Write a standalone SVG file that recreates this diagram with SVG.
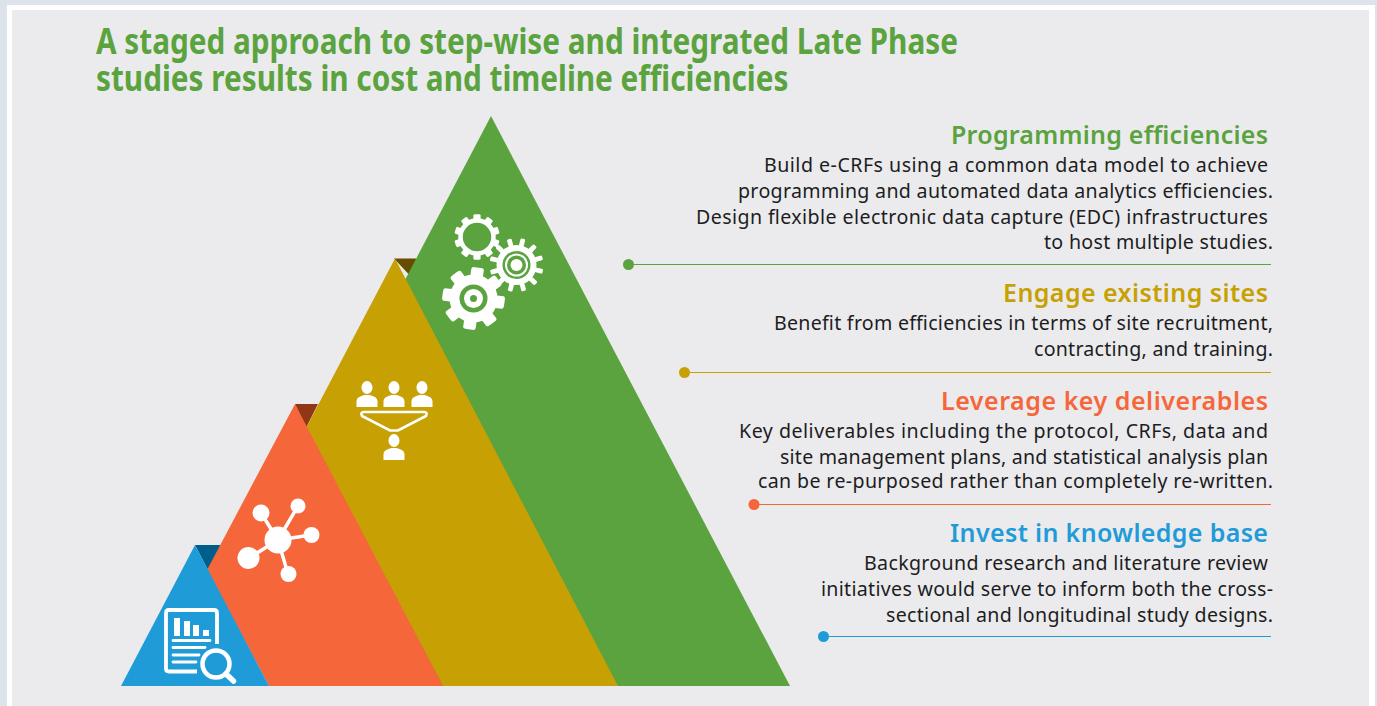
<svg xmlns="http://www.w3.org/2000/svg" width="1377" height="706" viewBox="0 0 1377 706">
<defs>
<style>
.ttl{font-family:"Noto Sans","Open Sans","DejaVu Sans Condensed",sans-serif;font-weight:700;font-size:36.500px;fill:#5aa33f}
.h{font-family:"Noto Sans","Open Sans",sans-serif;font-weight:600;font-size:25px;text-anchor:end}
.b{font-family:"Noto Sans","Open Sans",sans-serif;font-size:19.600px;fill:#1d1d1f;text-anchor:end}
.w{fill:#fff}
.ws{fill:none;stroke:#fff}
</style>
<g id="tooth"><rect x="-3" y="-4" width="6" height="8" rx="1.5" fill="#fff"/></g>
<g id="person"><ellipse cx="0" cy="-6.5" rx="5.5" ry="6.5" fill="#fff"/><path d="M-10.500 13V7.500C-10.500 3.500-7 2.500-2.500 1H2.500C7 2.500 10.500 3.500 10.500 7.500V13Z" fill="#fff"/></g>
</defs>
<rect width="1377" height="706" fill="#dde3ea"/>
<rect x="7" y="5" width="1368" height="701" fill="#fff"/>
<rect x="12" y="10" width="1357" height="696" fill="#ebebed"/>
<g id="title">
<text class="ttl" transform="translate(96 54) scale(.815 1)">A staged approach to step-wise and integrated Late Phase</text>
<text class="ttl" transform="translate(96 91) scale(.815 1)">studies results in cost and timeline efficiencies</text>
</g>
<g id="connectors">
<g stroke-width="1.2">
<path d="M628 264.500H1271" stroke="#5aa33f"/>
<path d="M684 372.500H1271" stroke="#c7a004"/>
<path d="M754 504.500H1271" stroke="#f5673b"/>
<path d="M823 636.500H1271" stroke="#1f9bd7"/>
</g>
<circle cx="628.500" cy="264.500" r="5.500" fill="#5aa33f"/>
<circle cx="684.500" cy="372.500" r="5.500" fill="#c7a004"/>
<circle cx="754" cy="504.500" r="5.500" fill="#f5673b"/>
<circle cx="823.500" cy="636.500" r="5.500" fill="#1f9bd7"/>
</g>
<g id="pyramid-green">
<path d="M394 258.500H416V282Z" fill="#664d00"/>
<path d="M491 116L790 686H490Z" fill="#5aa33f"/>
<path d="M491 116L300 480V686H500Z" fill="#5aa33f"/>
<g id="gears">
<g transform="translate(477 237)"><circle r="16.500" class="ws" stroke-width="4.500"/>
<g><use href="#tooth" transform="translate(0 -19.500) scale(1.200 .8)"/><use href="#tooth" transform="rotate(36) translate(0 -19.500) scale(1.200 .8)"/><use href="#tooth" transform="rotate(72) translate(0 -19.500) scale(1.200 .8)"/><use href="#tooth" transform="rotate(108) translate(0 -19.500) scale(1.200 .8)"/><use href="#tooth" transform="rotate(144) translate(0 -19.500) scale(1.200 .8)"/><use href="#tooth" transform="rotate(180) translate(0 -19.500) scale(1.200 .8)"/><use href="#tooth" transform="rotate(216) translate(0 -19.500) scale(1.200 .8)"/><use href="#tooth" transform="rotate(252) translate(0 -19.500) scale(1.200 .8)"/><use href="#tooth" transform="rotate(288) translate(0 -19.500) scale(1.200 .8)"/><use href="#tooth" transform="rotate(324) translate(0 -19.500) scale(1.200 .8)"/></g></g>
<g transform="translate(516.500 265)"><circle r="20" class="w"/><circle r="14" fill="#5aa33f"/><circle r="11.500" class="w"/><circle r="9.500" fill="#5aa33f"/><circle r="6" class="w"/>
<g><use href="#tooth" transform="rotate(14) translate(0 -23) scale(.8 1)"/><use href="#tooth" transform="rotate(44) translate(0 -23) scale(.8 1)"/><use href="#tooth" transform="rotate(74) translate(0 -23) scale(.8 1)"/><use href="#tooth" transform="rotate(104) translate(0 -23) scale(.8 1)"/><use href="#tooth" transform="rotate(134) translate(0 -23) scale(.8 1)"/><use href="#tooth" transform="rotate(164) translate(0 -23) scale(.8 1)"/><use href="#tooth" transform="rotate(194) translate(0 -23) scale(.8 1)"/><use href="#tooth" transform="rotate(224) translate(0 -23) scale(.8 1)"/><use href="#tooth" transform="rotate(254) translate(0 -23) scale(.8 1)"/><use href="#tooth" transform="rotate(284) translate(0 -23) scale(.8 1)"/><use href="#tooth" transform="rotate(314) translate(0 -23) scale(.8 1)"/><use href="#tooth" transform="rotate(344) translate(0 -23) scale(.8 1)"/></g></g>
<g transform="translate(473.500 298.500)"><circle r="24" class="w"/>
<g><use href="#tooth" transform="rotate(8) translate(0 -26) scale(2.100 1.300)"/><use href="#tooth" transform="rotate(53) translate(0 -26) scale(2.100 1.300)"/><use href="#tooth" transform="rotate(98) translate(0 -26) scale(2.100 1.300)"/><use href="#tooth" transform="rotate(143) translate(0 -26) scale(2.100 1.300)"/><use href="#tooth" transform="rotate(188) translate(0 -26) scale(2.100 1.300)"/><use href="#tooth" transform="rotate(233) translate(0 -26) scale(2.100 1.300)"/><use href="#tooth" transform="rotate(278) translate(0 -26) scale(2.100 1.300)"/><use href="#tooth" transform="rotate(323) translate(0 -26) scale(2.100 1.300)"/></g>
<circle r="14" fill="#5aa33f"/><circle r="9.500" class="w"/><circle r="3.500" fill="#5aa33f"/></g>
</g>
</g>
<g id="pyramid-gold">
<path d="M295 404H318L306 428Z" fill="#8f3717"/>
<path d="M395 258.500L618 686H443L306 428Z" fill="#c7a004"/>
<g id="funnel">
<use href="#person" transform="translate(367 394)"/><use href="#person" transform="translate(394 394)"/><use href="#person" transform="translate(422 394)"/>
<path d="M364 412H424Q428 412 426 416L398 430.500H390L362 416Q360 412 364 412Z" class="ws" stroke-width="2.600"/>
<use href="#person" transform="translate(394 447)"/>
</g>
</g>
<g id="pyramid-orange">
<path d="M195 545H221L208 570Z" fill="#005f8a"/>
<path d="M295 404L443 686H269L207 570Z" fill="#f5673b"/>
<g id="network" stroke="#fff" stroke-width="3.500" fill="#fff">
<path d="M278 540L261 513M278 540L298 506M278 540L311 535M278 540L249 558M278 540L288 574"/>
<circle cx="278" cy="540" r="13.500" stroke="none"/>
<circle cx="261" cy="513" r="8.500" stroke="none"/>
<circle cx="298" cy="506" r="7.500" stroke="none"/>
<circle cx="311.500" cy="535" r="8" stroke="none"/>
<circle cx="248.500" cy="558" r="11" stroke="none"/>
<circle cx="288.500" cy="574" r="8" stroke="none"/>
</g>
</g>
<g id="pyramid-blue">
<path d="M195 545L269 686H121Z" fill="#1f9bd7"/>
<g id="report">
<path d="M197 671.500H169Q166 671.500 166 668.500V613Q166 610 169 610H214Q217 610 217 613V644" class="ws" stroke-width="3.800"/>
<path d="M174 636V618H180V636ZM184 636V621H190V636ZM193 636V625H199V636ZM203 636V630H209V636Z" class="w"/>
<path d="M173 640.500H210M173 647.500H205M173 655H199M173 662H196" class="ws" stroke-width="2.800" stroke-linecap="round"/>
<circle cx="216" cy="664" r="13.500" class="ws" stroke-width="4.500"/>
<path d="M226 674L233.500 681" class="ws" stroke-width="5.500" stroke-linecap="round"/>
</g>
</g>
<g id="programming">
<text class="h" x="1268" y="144" fill="#5aa33f" textLength="317">Programming efficiencies</text>
<text class="b" x="1268" y="172" textLength="504">Build e-CRFs using a common data model to achieve</text>
<text class="b" x="1273" y="198" textLength="535">programming and automated data analytics efficiencies.</text>
<text class="b" x="1268" y="224" textLength="572">Design flexible electronic data capture (EDC) infrastructures</text>
<text class="b" x="1273" y="249" textLength="229">to host multiple studies.</text>
</g>
<g id="sites">
<text class="h" x="1268" y="302" fill="#c7a004" textLength="265">Engage existing sites</text>
<text class="b" x="1273" y="330" textLength="499">Benefit from efficiencies in terms of site recruitment,</text>
<text class="b" x="1273" y="356" textLength="239">contracting, and training.</text>
</g>
<g id="deliverables">
<text class="h" x="1268" y="410" fill="#f5673b" textLength="327">Leverage key deliverables</text>
<text class="b" x="1268" y="438" textLength="529">Key deliverables including the protocol, CRFs, data and</text>
<text class="b" x="1268" y="464" textLength="488">site management plans, and statistical analysis plan</text>
<text class="b" x="1273" y="488" textLength="515">can be re-purposed rather than completely re-written.</text>
</g>
<g id="knowledge">
<text class="h" x="1268" y="542" fill="#1f9bd7" textLength="318">Invest in knowledge base</text>
<text class="b" x="1268" y="570" textLength="404">Background research and literature review</text>
<text class="b" x="1273" y="596" textLength="452">initiatives would serve to inform both the cross-</text>
<text class="b" x="1273" y="622" textLength="387">sectional and longitudinal study designs.</text>
</g>
</svg>
